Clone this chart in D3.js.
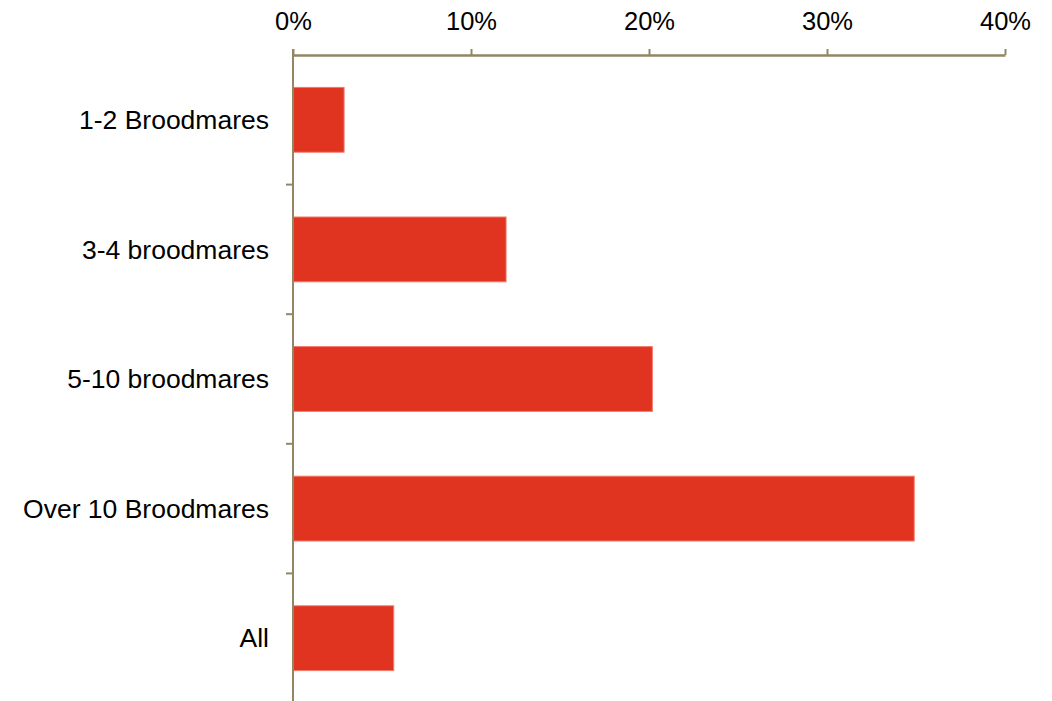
<!DOCTYPE html>
<html><head><meta charset="utf-8">
<script src="https://cdn.jsdelivr.net/npm/d3@7"></script>
<style>body{margin:0;background:#fff}svg{display:block}</style>
</head><body>
<script>
const categories = ["1-2 Broodmares","3-4 broodmares","5-10 broodmares","Over 10 Broodmares","All"];
const values = [0.0287, 0.1197, 0.2019, 0.349, 0.0566];
const tickValues = [0, 0.1, 0.2, 0.3, 0.4];

const W = 1052, H = 701;
const m = {left: 293, right: 47, top: 55, bottom: -2};
const svg = d3.select("body").append("svg").attr("width", W).attr("height", H);
const x = d3.scaleLinear().domain([0, 0.4]).range([m.left, W - m.right]);
const y = d3.scaleBand().domain(categories).range([m.top, H - m.bottom]).paddingInner(0.5).paddingOuter(0.25);
const yTicks = d3.scaleBand().domain(categories).range([m.top, H - m.bottom]);
const axisColor = "#938663";
const font = "Liberation Sans, Arial, sans-serif";

svg.selectAll("rect.bar").data(categories).join("rect")
  .attr("class","bar")
  .attr("x", x(0))
  .attr("y", d => y(d))
  .attr("width", (d,i) => x(values[i]) - x(0))
  .attr("height", y.bandwidth())
  .attr("fill", "#E03320")
  .attr("stroke", "#F27A6C").attr("stroke-width", 1);

// top axis
const xa = svg.append("g").attr("transform", `translate(0,${m.top})`)
  .call(d3.axisTop(x).tickValues(tickValues).tickFormat(d3.format(".0%")).tickSize(6).tickSizeOuter(0));
xa.select(".domain").attr("stroke", axisColor).attr("stroke-width", 2.5);
xa.selectAll(".tick line").attr("stroke", axisColor).attr("stroke-width", 2);
xa.selectAll(".tick text").attr("font-family", font).attr("font-size", 25.5).attr("fill","#000").attr("dy", "-0.35em").attr("y", -16);

// left axis
const ya = svg.append("g").attr("transform", `translate(${m.left},0)`);
ya.append("line").attr("x1",0).attr("x2",0).attr("y1", m.top - 6).attr("y2", H).attr("stroke", axisColor).attr("stroke-width", 2);
const bounds = categories.map(c => yTicks(c)).slice(1);
ya.selectAll("line.tk").data(bounds).join("line").attr("class","tk")
  .attr("x1",-7).attr("x2",0).attr("y1", d=>d).attr("y2", d=>d)
  .attr("stroke", axisColor).attr("stroke-width", 2);
ya.selectAll("text").data(categories).join("text")
  .attr("x", -24).attr("y", d => yTicks(d) + yTicks.bandwidth()/2)
  .attr("dy","0.35em").attr("text-anchor","end")
  .attr("font-family", font).attr("font-size", 26.5).attr("fill","#000")
  .text(d => d);
</script>
</body></html>
